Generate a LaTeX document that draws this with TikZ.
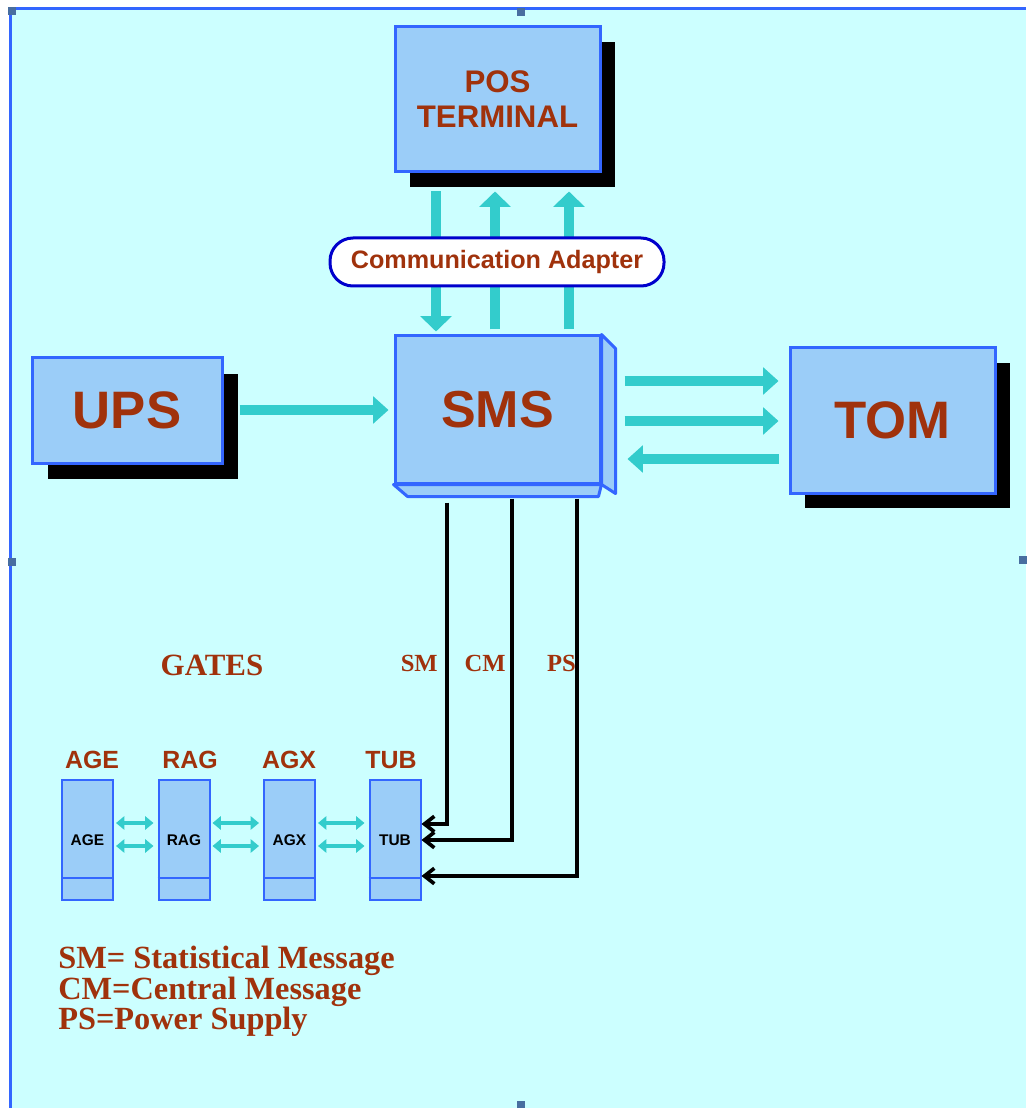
\documentclass[tikz,border=0pt]{standalone}
\usepackage{fontspec}
\setmainfont{Liberation Serif}
\setsansfont{Liberation Sans}
\usetikzlibrary{arrows.meta,calc,shadows}
\newlength\pu
\setlength\pu{0.025cm}
\definecolor{bgcyan}{RGB}{204,255,255}
\definecolor{boxfill}{RGB}{155,205,248}
\definecolor{boxline}{RGB}{51,102,255}
\definecolor{txtred}{RGB}{160,50,12}
\definecolor{tealar}{RGB}{51,204,204}
\definecolor{pillline}{RGB}{0,0,204}
\definecolor{handle}{RGB}{72,110,160}
\tikzset{
  bigbox/.style={draw=boxline, fill=boxfill, line width=3\pu, inner sep=0pt,
    text=txtred, font=\sffamily\bfseries},
  shadowed/.style={drop shadow={shadow xshift=15\pu, shadow yshift=-15\pu, fill=black, opacity=1}},
  face/.style={draw=boxline, fill=boxfill, line width=3\pu, line join=round},
  fat/.style={draw=tealar, line width=10\pu, -{Triangle[width=22pt,length=11pt]}},
  fath/.style={draw=tealar, line width=10\pu, -{Triangle[width=19pt,length=11pt]}},
  dbl/.style={draw=tealar, line width=4.5\pu, {Triangle[width=9.5pt,length=6pt]}-{Triangle[width=9.5pt,length=6pt]}},
  blk/.style={draw=black, line width=4\pu, -{Straight Barb[length=7pt,width=11pt,line width=2.6pt]}},
  gatebox/.style={draw=boxline, fill=boxfill, line width=2\pu, minimum width=51\pu,
    minimum height=120\pu, inner sep=0pt, font=\sffamily\bfseries\fontsize{11pt}{13pt}\selectfont},
  gatelbl/.style={text=txtred, font=\sffamily\bfseries\fontsize{17.7pt}{20pt}\selectfont, inner sep=0pt},
  serlbl/.style={text=txtred, font=\rmfamily\bfseries\fontsize{17.5pt}{20pt}\selectfont, inner sep=0pt},
}
\begin{document}
\begin{tikzpicture}[x=0.025cm,y=-0.025cm]
\useasboundingbox (0,0) rectangle (1026,1108);
\fill[white] (0,0) rectangle (1026,1108);
\fill[bgcyan] (10,9) rectangle (1026,1108);
% frame
\draw[boxline, line width=3\pu] (10,1108) -- (10,9) -- (1026,9);
\draw[white, line width=1\pu, dash pattern=on 4\pu off 4\pu] (8,1108) -- (8,7) -- (1026,7);
\foreach \p in {(12,11),(521,12),(12,562),(521,1105),(1023,560)}
  \fill[handle] \p ++(-4,-4) rectangle ++(8,8);

% main boxes
\node[bigbox, shadowed, minimum width=205\pu, minimum height=145\pu, align=center,
  font=\sffamily\bfseries\fontsize{22.2pt}{25pt}\selectfont] (pos) at (497.5,99.5) {POS\\TERMINAL};
\node[bigbox, minimum width=205\pu, minimum height=147\pu,
  font=\sffamily\bfseries\fontsize{37pt}{40pt}\selectfont] (sms) at (497.5,409.5) {SMS};
\draw[face] (sms.north east) -- ++(14,14) -- ++(0,145) -- (sms.south east) -- cycle;
\draw[face] (sms.south west) -- ++(14,12) -- ++(191,0) -- (sms.south east) -- cycle;
\node[bigbox, drop shadow={shadow xshift=16\pu, shadow yshift=-16\pu, fill=black, opacity=1},
  minimum width=190\pu, minimum height=105\pu,
  font=\sffamily\bfseries\fontsize{37.5pt}{40pt}\selectfont] (ups) at (127,410.5) {UPS};
\node[bigbox, shadowed, minimum width=205\pu, minimum height=145\pu,
  font=\sffamily\bfseries\fontsize{37.5pt}{40pt}\selectfont] (tom) at (892.5,420.5) {TOM};

% vertical teal arrows POS <-> SMS
\draw[fat] ($(pos.south)+(-61.5,18)$) -- ($(sms.north)+(-61.5,-3)$);
\draw[fat] ($(sms.north)+(-2.5,-5)$) -- ($(pos.south)+(-2.5,18)$);
\draw[fat] ($(sms.north)+(71.5,-5)$) -- ($(pos.south)+(71.5,18)$);
% communication adapter
\node[draw=pillline, fill=white, line width=3\pu, rounded corners=23\pu,
  minimum width=334\pu, minimum height=48\pu, inner sep=0pt, text=txtred,
  font=\sffamily\bfseries\fontsize{17.9pt}{20pt}\selectfont] (ca) at (497,262) {Communication Adapter};

% UPS -> SMS
\draw[fath] ($(ups.east)+(16,-0.5)$) -- ($(ups.east -| sms.west)+(-5,-0.5)$);
% SMS <-> TOM
\draw[fath] ($(tom.west)+(-164,-39.5)$) coordinate (t1) -- ($(t1 -| tom.west)+(-10,0)$);
\draw[fath] ($(tom.west)+(-164,0.5)$) coordinate (t2) -- ($(t2 -| tom.west)+(-10,0)$);
\draw[fath] ($(tom.west)+(-10,38.5)$) coordinate (t3) -- ($(t3 -| sms.east)+(26,0)$);

% gates
\node[gatebox] (age) at (87.5,840) {AGE};
\node[gatebox] (rag) at (184,840) {RAG};
\node[gatebox] (agx) at (289.5,840) {AGX};
\node[gatebox] (tub) at (395,840) {TUB};
\foreach \g in {age,rag,agx,tub}
  \draw[boxline, line width=2\pu] ($(\g.south west)+(0,-23)$) -- ($(\g.south east)+(0,-23)$);
\node[gatelbl] (lage) at (92,760) {AGE};
\node[gatelbl] (lrag) at (190,760) {RAG};
\node[gatelbl] (lagx) at (289,760) {AGX};
\node[gatelbl] (ltub) at (391,760) {TUB};
\foreach \a/\b in {age/rag,rag/agx,agx/tub}{
  \draw[dbl] ($(\a.east)+(2,-17)$) -- ($(\a.east -| \b.west)+(-4,-17)$);
  \draw[dbl] ($(\a.east)+(2,6)$) -- ($(\a.east -| \b.west)+(-4,6)$);
}

% SMS -> TUB lines
\draw[blk] ($(sms.south)+(-50.5,18)$) |- ($(tub.east)+(0,-16)$);
\draw[blk] ($(sms.south)+(14.5,14)$) |- ($(tub.east)+(0,0)$);
\draw[blk] ($(sms.south)+(79.5,14)$) |- ($(tub.east)+(0,36)$);
\node[serlbl, anchor=east] (lsm) at (438,663) {SM};
\node[serlbl, anchor=east] (lcm) at (506,663) {CM};
\node[serlbl, anchor=east] (lps) at (576,663) {PS};
\node[serlbl, font=\rmfamily\bfseries\fontsize{22pt}{24pt}\selectfont] (gates) at (212,665) {GATES};

% legend
\node[text=txtred, anchor=north west, align=left, inner sep=0pt,
  font=\rmfamily\bfseries\fontsize{23pt}{21.6pt}\selectfont] (legend) at (58,946)
  {SM= Statistical Message\\CM=Central Message\\PS=Power Supply};
\end{tikzpicture}
\end{document}
